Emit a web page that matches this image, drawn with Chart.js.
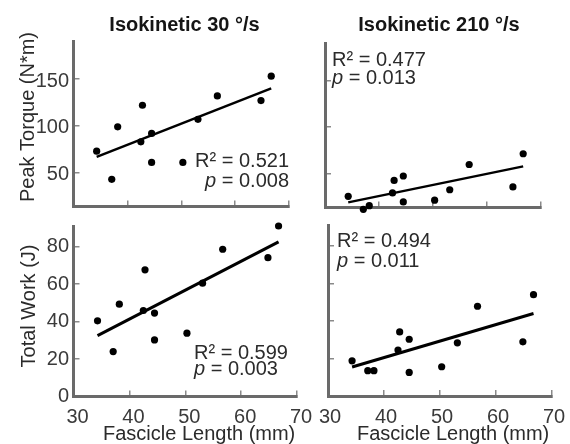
<!DOCTYPE html>
<html><head><meta charset="utf-8">
<script src="https://cdn.jsdelivr.net/npm/chart.js@4.4.1/dist/chart.umd.min.js"></script>
<style>
html,body{margin:0;padding:0;background:#fff;width:570px;height:444px;overflow:hidden;}
canvas{position:absolute;left:0;top:0;}
</style></head><body>
<canvas id="tl" width="570" height="444"></canvas>
<canvas id="tr" width="570" height="444"></canvas>
<canvas id="bl" width="570" height="444"></canvas>
<canvas id="br" width="570" height="444"></canvas>
<script>
// ---- data ----
const fascicleLength = [34.3, 37.1, 38.2, 42.5, 42.8, 44.5, 44.5, 50.3, 53.1, 56.7, 64.8, 66.7];
const torque30  = [73, 43, 99, 83, 122, 92, 61, 61, 107, 132, 127, 153];
const torque210 = [26, 12, 16, 29.6, 43, 47.7, 20, 21.8, 33, 60, 36, 71.5];
const work30    = [40.4, 24, 49.3, 45.9, 67.6, 44.5, 30.2, 33.8, 60.5, 78.6, 74.1, 91];
const work210   = [18.8, 13.5, 13.5, 24.5, 34.2, 30.3, 12.6, 15.6, 28.4, 47.9, 28.9, 54.1];
const fitX         = [34.3, 66.7];
const fitTorque30  = [67, 140];
const fitTorque210 = [19.5, 58];
const fitWork30    = [32.5, 82.5];
const fitWork210   = [15.5, 44];
const xTicks      = [30, 40, 50, 60, 70];
const torqueTicks = [50, 100, 150];
const workTicks   = [0, 20, 40, 60, 80];
const panelTitles = ['Isokinetic 30 °/s', 'Isokinetic 210 °/s'];
const yTitles     = ['Peak Torque (N*m)', 'Total Work (J)'];
const xTitle      = 'Fascicle Length (mm)';
const r2Values    = ['0.521', '0.477', '0.599', '0.494'];
const pValues     = ['0.008', '0.013', '0.003', '0.011'];

const FONT = '"Liberation Sans", Arial, Helvetica, sans-serif';

const textPlugin = {
  id: 'panelText',
  afterDraw(chart, args, opts) {
    const ctx = chart.ctx;
    (opts.items || []).forEach(it => {
      ctx.save();
      ctx.fillStyle = it.color || '#2b2b2b';
      ctx.textBaseline = it.baseline || 'alphabetic';
      ctx.translate(it.x, it.y);
      if (it.rotate) ctx.rotate(it.rotate * Math.PI / 180);
      const parts = it.parts || [{t: it.text}];
      const fonts = parts.map(p => (p.italic ? 'italic ' : '') + (it.weight || 'normal') + ' ' + (it.size || 20) + 'px ' + FONT);
      const widths = parts.map((p, i) => { ctx.font = fonts[i]; return ctx.measureText(p.t).width; });
      const total = widths.reduce((a, b) => a + b, 0);
      let x0 = it.align === 'right' ? -total : (it.align === 'center' ? -total / 2 : 0);
      ctx.textAlign = 'left';
      parts.forEach((p, i) => { ctx.font = fonts[i]; ctx.fillText(p.t, x0, 0); x0 += widths[i]; });
      ctx.restore();
    });
  }
};

function statItems(k, x, yR, yP, align) {
  return [
    {text: 'R\u00B2 = ' + r2Values[k], x: x, y: yR, align: align},
    {parts: [{t: 'p', italic: true}, {t: ' = ' + pValues[k]}], x: x, y: yP, align: align}
  ];
}

function makePanel(id, cfg) {
  const Wy = 40, Hx = 40;
  const a = cfg.area;
  new Chart(document.getElementById(id), {
    type: 'scatter',
    data: {
      datasets: [
        {
          data: fascicleLength.map((x, i) => ({x: x, y: cfg.values[i]})),
          showLine: false, pointRadius: 3.6, pointHoverRadius: 3.6,
          pointBackgroundColor: '#000', pointBorderWidth: 0, borderColor: '#000', clip: false
        },
        {
          type: 'line',
          data: fitX.map((x, i) => ({x: x, y: cfg.fit[i]})),
          showLine: true, borderColor: '#000', borderWidth: cfg.lw,
          pointRadius: 0, fill: false, clip: false, tension: 0
        }
      ]
    },
    options: {
      responsive: false, animation: false, events: [],
      layout: {padding: {left: a.left - Wy, right: 570 - a.right, top: a.top, bottom: 444 - a.bottom - Hx}},
      plugins: {legend: {display: false}, tooltip: {enabled: false}, title: {display: false},
                panelText: {items: cfg.texts}},
      scales: {
        x: {
          type: 'linear', position: 'bottom', min: 30, max: 70,
          afterBuildTicks: s => { s.ticks = xTicks.map(v => ({value: v})); },
          afterFit: s => { s.height = Hx; s.paddingLeft = 0; s.paddingRight = 0; },
          ticks: {display: cfg.xLabels, padding: 15, labelOffset: cfg.xLabelOffset || 0,
                  font: {family: FONT, size: 20}, color: '#3a3a3a'},
          grid: {display: true, drawOnChartArea: false, drawTicks: true, tickLength: -6, color: '#8a8a8a', lineWidth: 1.5},
          border: {display: true, color: '#6a6a6a', width: 3}
        },
        y: {
          type: 'linear', position: 'left', min: cfg.yMin, max: cfg.yMax,
          afterBuildTicks: s => { s.ticks = cfg.yTicks.map(v => ({value: v})); },
          afterFit: s => { s.width = Wy; s.paddingTop = 0; s.paddingBottom = 0; },
          ticks: {display: cfg.yLabels, padding: 10.5, labelOffset: cfg.yLabelOffset || 0,
                  font: {family: FONT, size: 20}, color: '#3a3a3a'},
          grid: {display: true, drawOnChartArea: false, drawTicks: true, tickLength: -6, color: '#8a8a8a', lineWidth: 1.5},
          border: {display: true, color: '#6a6a6a', width: 3}
        }
      }
    },
    plugins: [textPlugin]
  });
}

makePanel('tl', {
  area: {left: 73.5, right: 289, top: 41.5, bottom: 206.5},
  values: torque30, fit: fitTorque30, lw: 2.5,
  yMin: 14, yMax: 190, yTicks: torqueTicks, yLabels: true, xLabels: false, yLabelOffset: 2,
  texts: [
    {text: panelTitles[0], x: 184.5, y: 25, align: 'center', baseline: 'middle', weight: 'bold', color: '#151515'},
    {text: yTitles[0], x: 28, y: 117, rotate: -90, align: 'center', baseline: 'middle'}
  ].concat(statItems(0, 289, 167, 186.5, 'right'))
});

makePanel('tr', {
  area: {left: 325, right: 541, top: 43, bottom: 207.5},
  values: torque210, fit: fitTorque210, lw: 2.5,
  yMin: 14, yMax: 190, yTicks: torqueTicks, yLabels: false, xLabels: false,
  texts: [
    {text: panelTitles[1], x: 439, y: 25, align: 'center', baseline: 'middle', weight: 'bold', color: '#151515'}
  ].concat(statItems(1, 332, 66, 84, 'left'))
});

makePanel('bl', {
  area: {left: 73.5, right: 297, top: 226, bottom: 396.5},
  values: work30, fit: fitWork30, lw: 3,
  yMin: 0, yMax: 91, yTicks: workTicks, yLabels: true, xLabels: true, xLabelOffset: 4,
  texts: [
    {text: yTitles[1], x: 29, y: 306, rotate: -90, align: 'center', baseline: 'middle'},
    {text: xTitle, x: 103, y: 440, align: 'left'}
  ].concat(statItems(2, 194, 359, 374.5, 'left'))
});

makePanel('br', {
  area: {left: 328, right: 552, top: 225.5, bottom: 396},
  values: work210, fit: fitWork210, lw: 3,
  yMin: 0, yMax: 91, yTicks: workTicks.slice(1), yLabels: false, xLabels: true, xLabelOffset: 2,
  texts: [
    {text: xTitle, x: 357, y: 440, align: 'left'}
  ].concat(statItems(3, 337, 247, 267, 'left'))
});
</script>
</body></html>
